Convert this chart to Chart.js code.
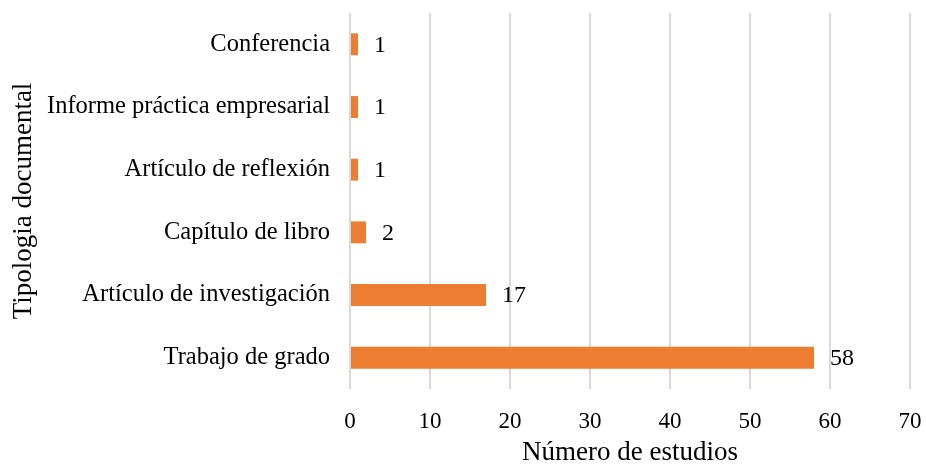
<!DOCTYPE html>
<html><head><meta charset="utf-8">
<script src="https://cdn.jsdelivr.net/npm/chart.js@4/dist/chart.umd.min.js"></script>
<style>html,body{margin:0;padding:0;background:#fff}#wrap{width:926px;height:464px}</style>
</head><body><div id="wrap"><canvas id="c" width="926" height="464"></canvas></div>
<script>
const categories = ["Conferencia","Informe práctica empresarial","Artículo de reflexión","Capítulo de libro","Artículo de investigación","Trabajo de grado"];
const values = [1,1,1,2,17,58];
const xMin = 0, xMax = 70, xStep = 10;
const xTitle = "Número de estudios";
const yTitle = "Tipologia documental";
const FONT = "'Liberation Serif', 'Times New Roman', serif";

const labelPlugin = {
  id: 'valLabels',
  afterDatasetsDraw(chart) {
    const ctx = chart.ctx;
    const meta = chart.getDatasetMeta(0);
    ctx.save();
    ctx.font = "24px " + FONT;
    ctx.fillStyle = "#000";
    ctx.textAlign = "left";
    ctx.textBaseline = "middle";
    meta.data.forEach((bar, i) => {
      ctx.fillText(String(values[i]), bar.x + 16, bar.y + 1);
    });
    ctx.restore();
  }
};

new Chart(document.getElementById('c'), {
  type: 'bar',
  data: { labels: categories, datasets: [{ data: values, backgroundColor: '#ED7D31', categoryPercentage: 1, barPercentage: 0.35 }] },
  options: {
    indexAxis: 'y',
    responsive: false,
    animation: false,
    layout: { padding: { top: 13, right: 16, left: 0, bottom: 0 } },
    plugins: { legend: { display: false }, tooltip: { enabled: false } },
    scales: {
      x: {
        min: xMin, max: xMax,
        ticks: { stepSize: xStep, color: '#000', font: { family: FONT, size: 23 }, padding: 19, maxRotation: 0 },
        grid: { color: '#d9d9d9', lineWidth: 2, drawTicks: false },
        border: { display: false },
        title: { display: true, text: xTitle, color: '#000', font: { family: FONT, size: 27 }, padding: { top: 0, bottom: -5 } },
        afterFit(s) { s.height = 75; s.paddingLeft = 0; s.paddingRight = 0; }
      },
      y: {
        ticks: { color: '#000', font: { family: FONT, size: 24.5 }, padding: 20 },
        grid: { display: false, drawTicks: false },
        border: { display: false },
        title: { display: true, text: yTitle, color: '#000', font: { family: FONT, size: 27 }, padding: { top: 8, bottom: 0 } },
        afterFit(s) { s.width = 350; s.paddingTop = 0; s.paddingBottom = 0; }
      }
    }
  },
  plugins: [labelPlugin]
});
</script></body></html>
